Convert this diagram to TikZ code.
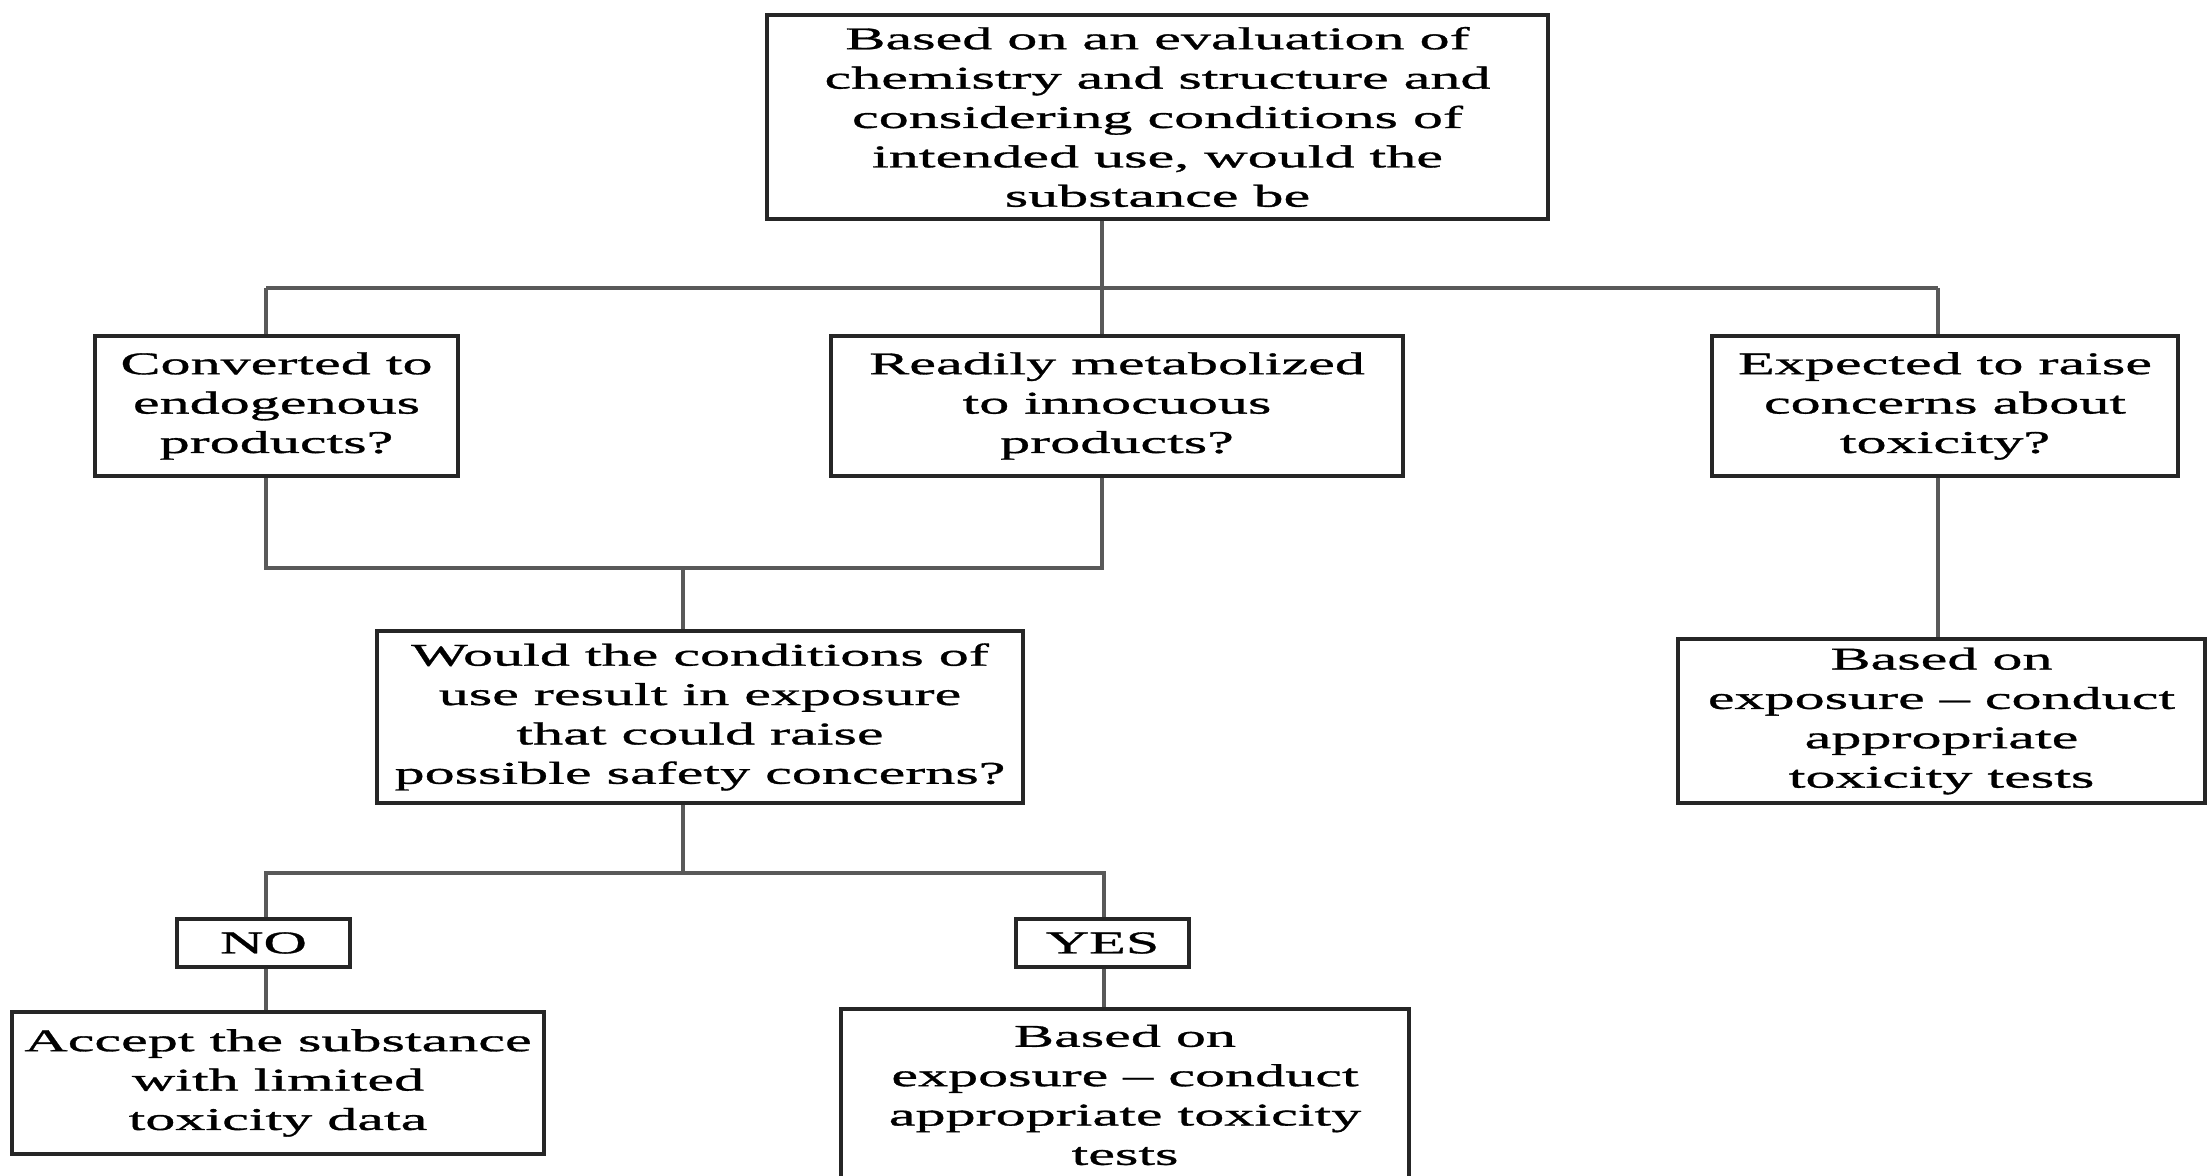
\documentclass[tikz,border=0pt]{standalone}
\usepackage{fontspec}
\setmainfont{Liberation Serif}[FakeStretch=1.9,FakeBold=1]
\begin{document}
\begin{tikzpicture}[box/.style={draw=black!85,line width=0.9pt,align=center,inner sep=0pt,font=\fontsize{9pt}{11.2pt}\selectfont},
  link/.style={draw=black!65,line width=0.9pt}]
\clip (0,0) rectangle (22.08,-11.76);

\node[box,minimum width=7.81cm,minimum height=2.04cm] (top) at (11.575,-1.17) {Based on an evaluation of\\chemistry and structure and\\considering conditions of\\intended use, would the\\substance be};

\node[box,minimum width=3.63cm,minimum height=1.40cm] (conv) at (2.765,-4.06) {Converted to\\endogenous\\products?};
\node[box,minimum width=5.72cm,minimum height=1.40cm] (meta) at (11.17,-4.06) {Readily metabolized\\to innocuous\\products?};
\node[box,minimum width=4.66cm,minimum height=1.40cm] (expc) at (19.45,-4.06) {Expected to raise\\concerns about\\toxicity?};

\node[box,minimum width=6.46cm,minimum height=1.72cm] (would) at (7.00,-7.17) {Would the conditions of\\use result in exposure\\that could raise\\possible safety concerns?};
\node[box,minimum width=5.27cm,minimum height=1.64cm] (testsR) at (19.415,-7.21) {Based on\\exposure -- conduct\\appropriate\\toxicity tests};

\node[box,minimum width=1.73cm,minimum height=0.48cm] (no) at (2.635,-9.43) {NO};
\node[box,minimum width=1.73cm,minimum height=0.48cm] (yes) at (11.025,-9.43) {YES};

\node[box,minimum width=5.32cm,minimum height=1.42cm] (accept) at (2.78,-10.83) {Accept the substance\\with limited\\toxicity data};
\node[box,minimum width=5.68cm,minimum height=1.72cm] (testsB) at (11.25,-10.95) {Based on\\exposure -- conduct\\appropriate toxicity\\tests};

\coordinate (busL) at (2.66,-2.88);
\coordinate (busM) at (11.02,-2.88);
\coordinate (busR) at (19.38,-2.88);
\draw[link] (top.south -| busM) -- (busM);
\draw[link] (busL) -- (busR);
\draw[link] (busL) -- (conv.north -| busL);
\draw[link] (busM) -- (meta.north -| busM);
\draw[link] (busR) -- (expc.north -| busR);

\coordinate (mrgL) at (2.66,-5.68);
\coordinate (mrgM) at (6.83,-5.68);
\coordinate (mrgR) at (11.02,-5.68);
\draw[link] (conv.south -| mrgL) -- (mrgL) -- (mrgR) -- (meta.south -| mrgR);
\draw[link] (mrgM) -- (would.north -| mrgM);
\draw[link] (expc.south -| busR) -- (testsR.north -| busR);

\coordinate (splL) at (2.66,-8.73);
\coordinate (splM) at (6.83,-8.73);
\coordinate (splR) at (11.04,-8.73);
\draw[link] (would.south -| splM) -- (splM);
\draw[link] (no.north -| splL) -- (splL) -- (splR) -- (yes.north -| splR);
\draw[link] (no.south -| splL) -- (accept.north -| splL);
\draw[link] (yes.south -| splR) -- (testsB.north -| splR);
\end{tikzpicture}
\end{document}
